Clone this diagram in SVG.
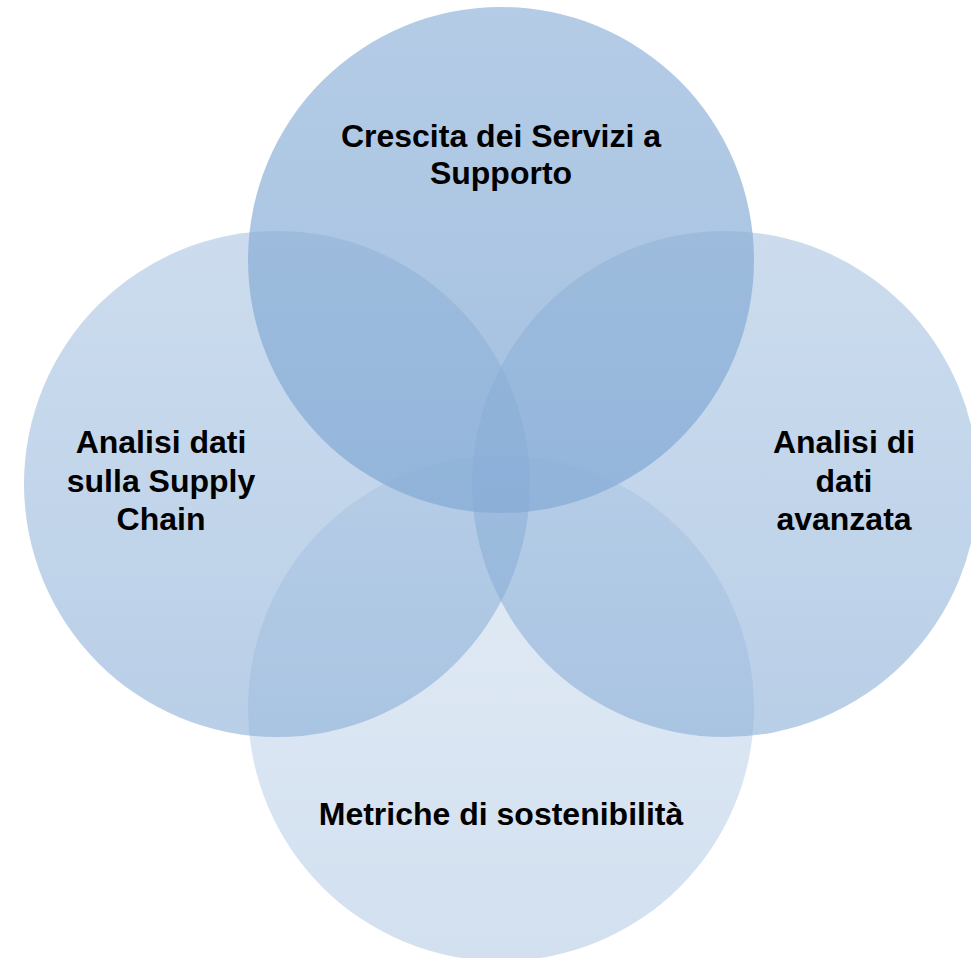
<svg xmlns="http://www.w3.org/2000/svg" width="971" height="958" viewBox="0 0 971 958">
  <defs>
    <linearGradient id="gTop" x1="0" y1="0" x2="0" y2="1">
      <stop offset="0" stop-color="#86acd6" stop-opacity="0.62"/>
      <stop offset="1" stop-color="#86acd6" stop-opacity="0.76"/>
    </linearGradient>
    <linearGradient id="gSide" x1="0" y1="0" x2="0" y2="1">
      <stop offset="0" stop-color="#86acd6" stop-opacity="0.42"/>
      <stop offset="1" stop-color="#86acd6" stop-opacity="0.58"/>
    </linearGradient>
    <linearGradient id="gBottom" x1="0" y1="0" x2="0" y2="1">
      <stop offset="0" stop-color="#86acd6" stop-opacity="0.22"/>
      <stop offset="1" stop-color="#86acd6" stop-opacity="0.38"/>
    </linearGradient>
  </defs>
  <style>
    .lbl { font-family: "Liberation Sans", Arial, sans-serif; font-weight: bold; font-size: 32px; fill: #000000; text-anchor: middle; }
  </style>
  <rect x="0" y="0" width="971" height="958" fill="#ffffff"/>
  <g id="node-top">
    <circle cx="501" cy="260" r="253" fill="url(#gTop)"/>
  </g>
  <g id="node-right">
    <circle cx="725" cy="484" r="253" fill="url(#gSide)"/>
  </g>
  <g id="node-bottom">
    <circle cx="501" cy="708" r="253" fill="url(#gBottom)"/>
  </g>
  <g id="node-left">
    <circle cx="277" cy="484" r="253" fill="url(#gSide)"/>
  </g>
  <g id="labels">
    <text class="lbl" x="501" y="147">Crescita dei Servizi a</text>
    <text class="lbl" x="501" y="184">Supporto</text>
    <text class="lbl" x="161" y="453">Analisi dati</text>
    <text class="lbl" x="161" y="492">sulla Supply</text>
    <text class="lbl" x="161" y="530">Chain</text>
    <text class="lbl" x="844" y="453">Analisi di</text>
    <text class="lbl" x="844" y="492">dati</text>
    <text class="lbl" x="844" y="530">avanzata</text>
    <text class="lbl" x="501" y="825">Metriche di sostenibilità</text>
  </g>
  <g id="connectors"/>
</svg>
